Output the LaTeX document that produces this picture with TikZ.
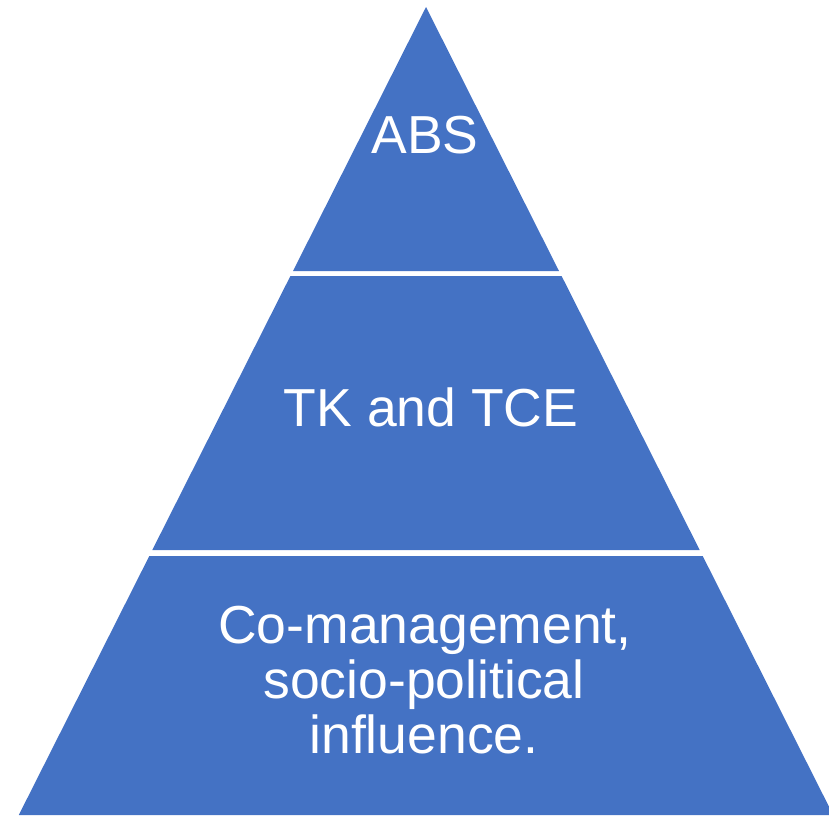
\documentclass[tikz,border=0pt]{standalone}
\usepackage{fontspec}
\setmainfont{Liberation Sans}
\definecolor{layerblue}{HTML}{4472C4}
\begin{document}
\begin{tikzpicture}[x=1pt,y=-1pt,
  layer/.style={fill=layerblue,draw=none},
  lbl/.style={text=white,anchor=base,inner sep=0pt,font=\fontsize{53.5}{53.5}\selectfont}]
\useasboundingbox (0,0) rectangle (829,815);
\clip (0,0) rectangle (829,815);
% layers
\fill[layer] (426,7) -- (559,271) -- (293,271) -- cycle;
\fill[layer] (290.4,276) -- (561.6,276) -- (699.7,550) -- (152.3,550) -- cycle;
\fill[layer] (149.3,556) -- (702.7,556) -- (833.2,815) -- (18.8,815) -- cycle;
% labels
\node[lbl] (abs) at (425,153) {ABS};
\node[lbl] (tk) at (431,426) {TK and TCE};
\node[lbl] (co1) at (425,643) {Co-management,};
\node[lbl] (co2) at (424,698) {socio-political};
\node[lbl] (co3) at (424,753) {influence.};
\end{tikzpicture}
\end{document}
